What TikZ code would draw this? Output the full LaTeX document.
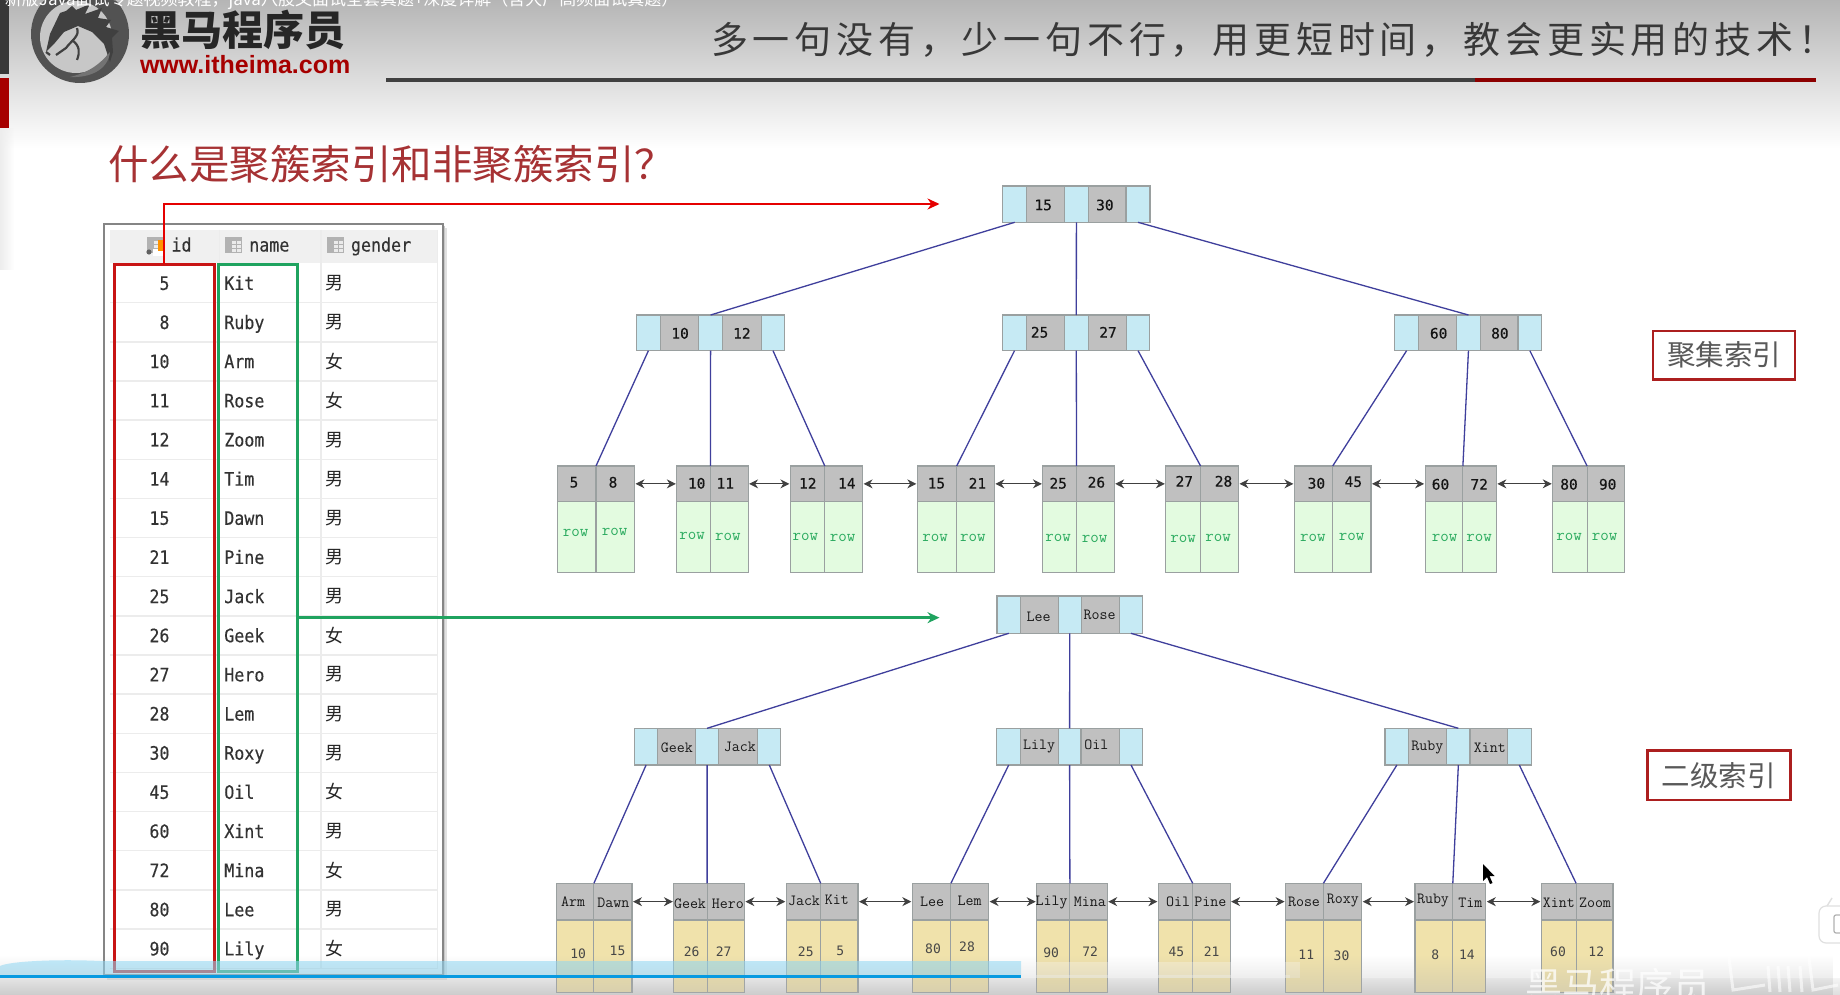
\documentclass[tikz,border=0pt]{standalone}
\usepackage{fontspec}
\usetikzlibrary{arrows.meta,fadings}
\setmainfont{Liberation Sans}
\setmonofont{Latin Modern Mono}
\newfontfamily\cjk{Noto Sans CJK SC}
\newfontfamily\numfont{DejaVu Sans Mono}
\newfontfamily\keynumfont[FakeBold=0.4]{DejaVu Sans Mono}
\newfontfamily\tabfont[FakeStretch=0.9,FakeBold=0.3]{DejaVu Sans Mono}
\newfontfamily\slogan[LetterSpace=13]{Noto Sans CJK SC}

\definecolor{ptrblue}{HTML}{C6EAF4}
\definecolor{keygray}{HTML}{C0C0C0}
\definecolor{cellline}{HTML}{9AA0A0}
\definecolor{rowgreen}{HTML}{E3FBE0}
\definecolor{rowtext}{HTML}{2BAB5F}
\definecolor{pkyellow}{HTML}{F0E2AB}
\definecolor{edgeblue}{HTML}{3F3F9C}
\definecolor{boxred}{HTML}{C81414}
\definecolor{boxgreen}{HTML}{1FA35F}
\definecolor{labelred}{HTML}{AC1F1F}
\definecolor{titlered}{HTML}{A63234}
\definecolor{gridline}{HTML}{ECECEC}

\tikzset{
  cellbase/.style={rectangle,inner sep=0pt,outer sep=0pt,draw=cellline,line width=1.1pt},
  ptrcell/.style={fill=ptrblue},
  keycell/.style={fill=keygray},
  rowcell/.style={fill=rowgreen},
  pkcell/.style={fill=pkyellow},
  keyblock/.style={draw=none},
  txt/.style={inner sep=0pt,outer sep=0pt},
  keynum/.style={txt,font=\fontsize{14.5}{14.5}\selectfont\keynumfont,text=black!92},
  keyname/.style={txt,font=\fontsize{15.5}{15.5}\selectfont\ttfamily\bfseries,text=black!90},
  rowtag/.style={txt,font=\fontsize{16.5}{16.5}\selectfont\ttfamily,text=rowtext},
  pkval/.style={txt,font=\fontsize{13}{13}\selectfont\numfont,text=black!72},
  tabcell/.style={txt,font=\fontsize{18.5}{18.5}\selectfont\tabfont,text=black!80},
  tabcjk/.style={txt,font=\fontsize{18}{18}\selectfont\cjk,text=black!85},
  treeedge/.style={draw=edgeblue,line width=1.3pt},
  linkedge/.style={draw=black!75,line width=1pt,{Stealth[length=9pt,width=9pt]}-{Stealth[length=9pt,width=9pt]},shorten <=1pt,shorten >=1pt},
  indexlabel/.style={rectangle,draw=labelred,line width=2.4pt,fill=white,inner sep=0pt,outer sep=0pt,
    font=\fontsize{28.5}{28.5}\selectfont\cjk,text=black!65},
  gridrule/.style={draw=gridline,line width=1.4pt}
}

\newcounter{lblno}
% Free-standing text placed by its visual centre
\newcommand\lbl[4]{\stepcounter{lblno}\node[#3] (t\thelblno) at (#1,#2) {#4};}
% A rectangular cell given by its edges: name, x0, x1, y0, y1, style
\newcommand\cellbox[6]{%
  \pgfmathsetmacro\cw{#3-#2}\pgfmathsetmacro\ch{#5-#4}%
  \pgfmathsetmacro\cx{(#2+#3)/2}\pgfmathsetmacro\cy{(#4+#5)/2}%
  \node[cellbase,#6,minimum width=\cw pt,minimum height=\ch pt] (#1) at (\cx,\cy) {};}
% Inner tree node: five cells, pointer / key / pointer / key / pointer
\newcommand\inner[7]{%
  \cellbox{#1a}{#2}{#3}{\ytop}{\ybot}{ptrcell}
  \cellbox{#1k}{#3}{#4}{\ytop}{\ybot}{keycell}
  \cellbox{#1b}{#4}{#5}{\ytop}{\ybot}{ptrcell}
  \cellbox{#1l}{#5}{#6}{\ytop}{\ybot}{keycell}
  \cellbox{#1c}{#6}{#7}{\ytop}{\ybot}{ptrcell}}
% Leaf: two keys over two payload cells
\newcommand\leafbox[5]{%
  \cellbox{#1}{#2}{#4}{\ya}{\yb}{keyblock}
  \cellbox{#1p}{#2}{#3}{\ya}{\yb}{keycell}
  \cellbox{#1q}{#3}{#4}{\ya}{\yb}{keycell}
  \cellbox{#1r}{#2}{#3}{\yb}{\yc}{#5}
  \cellbox{#1s}{#3}{#4}{\yb}{\yc}{#5}}
% Column icon of the table header
\newcommand\colicon[2]{%
  \fill[black!30] (#1,#2) rectangle +(17,16);
  \fill[black!8] (#1+7,#2+4) rectangle +(4,3);
  \fill[black!8] (#1+12,#2+4) rectangle +(4,3);
  \fill[black!8] (#1+7,#2+8) rectangle +(4,3);
  \fill[black!8] (#1+12,#2+8) rectangle +(4,3);
  \fill[black!8] (#1+7,#2+12) rectangle +(4,3);
  \fill[black!8] (#1+12,#2+12) rectangle +(4,3);}

\begin{document}
\begin{tikzpicture}[x=1pt,y=-1pt]
\useasboundingbox (0,0) rectangle (1840,995);

% page ground and banner
\fill[white] (0,0) rectangle (1840,995);
\shade[top color=black!29,bottom color=white] (0,0) rectangle (1840,148);
\fill[black!7,path fading=east] (0,128) rectangle (14,270);
\shade[top color=black!4,bottom color=black!13] (0,978) rectangle (1840,995);
\fill[black!78] (0,0) rectangle (9,74);
\fill[red!65!black] (0,78) rectangle (9,128);

% logo: ring with horse head
\fill[black!68] (80,34) circle (49);
\fill[black!22] (76,37) circle (36);
\fill[black!75] (46,52) -- (50,34) -- (60,13) -- (66,11) -- (72,6) -- (76,10) -- (90,4)
  -- (85,14) -- (102,8) -- (98,18) -- (111,20) -- (106,27) -- (119,31) -- (112,38)
  -- (113,52) -- (110,62) -- (104,44) -- (92,32) -- (78,26) -- (64,32) -- (54,44) -- cycle;
\fill[black!55] (110,52) .. controls (108,70) and (90,78) .. (70,77)
  .. controls (90,72) and (100,64) .. (110,52) -- cycle;
\draw[black!75,line width=2.2pt] (77,28) .. controls (80,36) and (72,40) .. (66,48) -- (56,55);
\draw[black!75,line width=2.2pt] (72,40) .. controls (80,46) and (80,52) .. (77,60);
\draw[black!75,line width=2.2pt] (46,52) -- (50,55);

\node[txt,anchor=west,font=\fontsize{41}{41}\selectfont\cjk\bfseries,text=black!85] (brand) at (140,30) {黑马程序员};
\node[txt,anchor=west,font=\fontsize{25}{25}\selectfont\bfseries,text=red!65!black] (site) at (140,65) {www.itheima.com};
\node[txt,anchor=base west,font=\fontsize{17}{17}\selectfont\cjk,text=white] (vtitle) at (5,5.5) {新版Java面试专题视频教程，java八股文面试全套真题+深度详解（含大厂高频面试真题）};
\node[txt,anchor=west,font=\fontsize{37}{37}\selectfont\slogan,text=black!78] (motto) at (711,40) {多一句没有，少一句不行，用更短时间，教会更实用的技术！};
\fill[black!75] (386,78) rectangle (1475,82);
\fill[red!55!black] (1475,78) rectangle (1816,82);

\node[txt,anchor=west,font=\fontsize{40.5}{40.5}\selectfont\cjk,text=titlered] (heading) at (108,164) {什么是聚簇索引和非聚簇索引？};

% data table
\fill[black!12] (107,228) rectangle (447,980);
\fill[black!22] (106,226) rectangle (445,978);
\node[rectangle,draw=black!48,line width=2pt,fill=white,minimum width=338.7pt,minimum height=751pt,inner sep=0pt,outer sep=0pt] (tablebox) at (273.35,599.5) {};
\fill[black!6] (110,230) rectangle (437.7,262.7);
\foreach \i in {1,...,18} \draw[gridrule] (110,263.5+39.15*\i) -- (437.7,263.5+39.15*\i);
\draw[gridrule] (219.3,230) -- (219.3,968);
\draw[gridrule] (321,230) -- (321,968);
\draw[gridrule] (437.7,230) -- (437.7,968);

\colicon{147}{237}
\fill[white] (153,249) rectangle (164,256);
\fill[black!62] (149,252) circle (2.6);
\fill[orange!85!yellow] (158,240) rectangle (163,251);
\colicon{225}{237}
\colicon{327}{237}
\node[tabcell,anchor=base west] (hid) at (171.5,251.5) {id};
\node[tabcell,anchor=base west] (hname) at (249.3,251.5) {name};
\node[tabcell,anchor=base west] (hgender) at (351,251.5) {gender};

\foreach \i/\idv/\nm/\g in {0/5/Kit/男,1/8/Ruby/男,2/10/Arm/女,3/11/Rose/女,4/12/Zoom/男,5/14/Tim/男,
  6/15/Dawn/男,7/21/Pine/男,8/25/Jack/男,9/26/Geek/女,10/27/Hero/男,11/28/Lem/男,12/30/Roxy/男,
  13/45/Oil/女,14/60/Xint/男,15/72/Mina/女,16/80/Lee/男,17/90/Lily/女}{
  \pgfmathsetmacro\ry{263.5+39.15*(\i+0.5)}
  \pgfmathsetmacro\rb{\ry+6.8}
  \node[tabcell,anchor=base east] (rid\i) at (169.5,\rb) {\idv};
  \node[tabcell,anchor=base west] (rn\i) at (224.3,\rb) {\nm};
  \node[tabcjk,anchor=west] (rg\i) at (325.5,\ry) {\g};
}

\node[rectangle,draw=boxred,line width=3pt,minimum width=100pt,minimum height=706.7pt,inner sep=0pt,outer sep=0pt] (idbox) at (164,617.65) {};
\node[rectangle,draw=boxgreen,line width=3pt,minimum width=79.4pt,minimum height=706.7pt,inner sep=0pt,outer sep=0pt] (namebox) at (258,617.65) {};
\coordinate (redend) at (939.5,204);
\coordinate (greenend) at (939.5,617.65);
\draw[draw=red!90!black,line width=2.6pt,-{Stealth[length=12pt,width=11pt]}] (idbox.north) |- (redend);
\draw[draw=boxgreen,line width=2.4pt,-{Stealth[length=12pt,width=11pt]}] (namebox.east) -- (greenend);

% clustered index tree
\def\ytop{186}\def\ybot{222.3}
\inner{ra}{1002.7}{1026.8}{1064.4}{1088.4}{1126}{1150}
\def\ytop{315}\def\ybot{350.7}
\inner{rb}{636.6}{660.2}{698.8}{722.4}{761.4}{784.6}
\inner{rc}{1002.7}{1026.3}{1064.5}{1088.1}{1126.2}{1149.9}
\inner{rd}{1394.7}{1418.5}{1456.8}{1480.1}{1518}{1541.7}
\def\ya{466}\def\yb{501.7}\def\yc{572.3}
\leafbox{c1}{557.8}{596}{634.5}{rowcell}
\leafbox{c2}{676.8}{710.4}{748.1}{rowcell}
\leafbox{c3}{790.4}{824.8}{862.6}{rowcell}
\leafbox{c4}{917.3}{956.7}{994.4}{rowcell}
\leafbox{c5}{1042.9}{1076.5}{1114.2}{rowcell}
\leafbox{c6}{1165.8}{1200.6}{1238.5}{rowcell}
\leafbox{c7}{1294.4}{1332.7}{1371}{rowcell}
\leafbox{c8}{1425.1}{1462.9}{1496.4}{rowcell}
\leafbox{c9}{1552.7}{1587.1}{1624.9}{rowcell}

\foreach \x/\y/\t in {1043.2/205/15,1104.9/205/30,680.1/333.3/10,741.9/333.3/12,1039.6/332.3/25,1108/332.3/27,
  1438.7/333.3/60,1499.9/333.3/80,
  574/482.3/5,613/482.3/8,696.7/483.3/10,725.3/483.3/11,807.8/483.3/12,846.8/483.3/14,
  936.4/483.3/15,977.4/483.3/21,1058.2/483.3/25,1096.4/482.3/26,1184.3/481.3/27,1223.5/481.3/28,
  1316.4/483.3/30,1353.3/481.7/45,1440.5/484.3/60,1479.2/484.3/72,1569/484.3/80,1607.7/484.3/90}
  {\lbl{\x}{\y}{keynum}{\t}}
\foreach \x/\y in {575.7/533.3,614.6/532.3,692.2/536.3,727.8/537.3,805.3/537.3,842.7/538.3,
  935.1/538.3,972.8/538.3,1058.2/538.3,1094.7/539.3,1183/539.3,1218.2/538.3,
  1312.9/538.3,1351.6/537.3,1444.5/538.3,1479.2/538.3,1569/537.3,1604.7/537.3}
  {\lbl{\x}{\y}{rowtag}{row}}

\draw[treeedge] (raa.south) -- (rbb.north);
\draw[treeedge] (rab.south) -- (rcb.north);
\draw[treeedge] (rac.south) -- (rdb.north);
\draw[treeedge] (rba.south) -- (c1p.north east);
\draw[treeedge] (rbb.south) -- (c2p.north east);
\draw[treeedge] (rbc.south) -- (c3p.north east);
\draw[treeedge] (rca.south) -- (c4p.north east);
\draw[treeedge] (rcb.south) -- (c5p.north east);
\draw[treeedge] (rcc.south) -- (c6p.north east);
\draw[treeedge] (rda.south) -- (c7p.north east);
\draw[treeedge] (rdb.south) -- (c8p.north east);
\draw[treeedge] (rdc.south) -- (c9p.north east);
\foreach \p/\q in {c1/c2,c2/c3,c3/c4,c4/c5,c5/c6,c6/c7,c7/c8,c8/c9}
  \draw[linkedge] (\p.east) -- (\q.west);

% secondary index tree
\def\ytop{596}\def\ybot{633.3}
\inner{sa}{997}{1020.6}{1058.2}{1081.2}{1119.4}{1142.4}
\def\ytop{728.3}\def\ybot{765}
\inner{sb}{634.5}{657.7}{695.5}{718.7}{757.7}{780.9}
\inner{sc}{996.9}{1020.5}{1058.2}{1081}{1119.2}{1142.8}
\inner{sd}{1385}{1408.8}{1446.7}{1470}{1507.4}{1531.2}
\def\ya{883.3}\def\yb{920}\def\yc{992.3}
\leafbox{d1}{556.2}{593.9}{632}{pkcell}
\leafbox{d2}{673.9}{707.1}{744.4}{pkcell}
\leafbox{d3}{786.3}{820.7}{858}{pkcell}
\leafbox{d4}{912.3}{950.9}{988.6}{pkcell}
\leafbox{d5}{1036.7}{1069.9}{1107.2}{pkcell}
\leafbox{d6}{1158.4}{1192.7}{1230.1}{pkcell}
\leafbox{d7}{1285.6}{1323.4}{1361.7}{pkcell}
\leafbox{d8}{1415}{1452.8}{1485.8}{pkcell}
\leafbox{d9}{1541.3}{1576.1}{1613}{pkcell}

\foreach \x/\y/\t in {1038.6/616.7/Lee,1099.7/615/Rose,676.8/747.7/Geek,739.8/746.7/Jack,1039.2/747/Lily,1096.4/744.7/Oil,
  1427.3/747.7/Ruby,1489.8/747.7/Xint,
  573.2/901.7/Arm,613.4/903.3/Dawn,690/903.7/Geek,727.8/904/Hero,804/900.7/Jack,836.8/900/Kit,
  932.2/901.7/Lee,969.5/901/Lem,1051.6/902.7/Lily,1089.8/901.7/Mina,1178.2/901.7/Oil,1210.3/902.3/Pine,
  1304/901.7/Rose,1342.8/901/Roxy,1433/901/Ruby,1470.4/902.3/Tim,1558.9/902.7/Xint,1595/902.7/Zoom}
  {\lbl{\x}{\y}{keyname}{\t}}
\foreach \x/\y/\t in {578.1/953.3/10,617.5/950.7/15,691.7/951.7/26,723.7/951.7/27,805.8/951.7/25,840.2/950.7/5,
  933/948.7/80,967/946.7/28,1051.2/952.7/90,1090.2/951.7/72,1176.4/951.7/45,1211.6/951.7/21,
  1306.3/955/11,1341.5/956/30,1435.2/955/8,1466.9/955/14,1558/951.7/60,1596.3/951.7/12}
  {\lbl{\x}{\y}{pkval}{\t}}

\draw[treeedge] (saa.south) -- (sbb.north);
\draw[treeedge] (sab.south) -- (scb.north);
\draw[treeedge] (sac.south) -- (sdb.north);
\draw[treeedge] (sba.south) -- (d1p.north east);
\draw[treeedge] (sbb.south) -- (d2p.north east);
\draw[treeedge] (sbc.south) -- (d3p.north east);
\draw[treeedge] (sca.south) -- (d4p.north east);
\draw[treeedge] (scb.south) -- (d5p.north east);
\draw[treeedge] (scc.south) -- (d6p.north east);
\draw[treeedge] (sda.south) -- (d7p.north east);
\draw[treeedge] (sdb.south) -- (d8p.north east);
\draw[treeedge] (sdc.south) -- (d9p.north east);
\foreach \p/\q in {d1/d2,d2/d3,d3/d4,d4/d5,d5/d6,d6/d7,d7/d8,d8/d9}
  \draw[linkedge] (\p.east) -- (\q.west);

% index captions
\node[indexlabel,minimum width=142pt,minimum height=48.6pt] (clusteredtag) at (1724,355) {聚集索引};
\node[indexlabel,minimum width=143pt,minimum height=49.3pt] (secondarytag) at (1718.9,775.3) {二级索引};

% mouse pointer
\fill[black] (1483,864) -- (1483,881) -- (1487,877) -- (1490,884) -- (1492.5,883) -- (1489.5,876) -- (1494.5,876) -- cycle;

% player overlays along the lower edge
\fill[cyan!45!white,opacity=.55] (0,966) .. controls (10,961) and (60,959) .. (100,961) -- (1021,961) -- (1021,975) -- (0,975) -- cycle;
\fill[white,opacity=.3] (1021,962) rectangle (1300,978);
\fill[white,opacity=.35] (1021,975) rectangle (1290,977.5);
\fill[black!30,opacity=.4,path fading=north] (0,955) rectangle (1840,995);
\fill[cyan!85!blue] (0,975) rectangle (1021,978);
\node[txt,anchor=west,font=\fontsize{37}{37}\selectfont\cjk,text=white,opacity=.75] (stamp) at (1525,985) {黑马程序员};
\draw[white,opacity=.6,line width=3pt] (1728,950) -- (1733,990) -- (1765,985);
\foreach \x in {1768,1778,1788,1800}
  \draw[white,opacity=.6,line width=3pt] (\x,966) -- (\x+2,992);
\draw[white,opacity=.6,line width=3pt] (1808,950) -- (1813,990) -- (1838,985);
\draw[black!12,fill=white,line width=1.2pt,rounded corners=7pt] (1819,906) rectangle (1862,943);
\draw[black!30,line width=1.2pt,rounded corners=2pt] (1834,915) rectangle (1862,933);
\draw[black!12,line width=1.4pt] (1827,906) -- (1832,898);
\end{tikzpicture}
\end{document}
